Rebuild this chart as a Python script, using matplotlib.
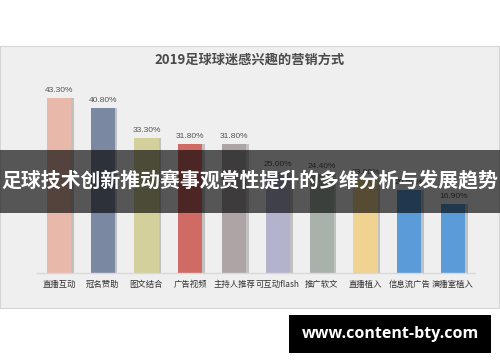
import matplotlib
matplotlib.use('Agg')
import matplotlib.pyplot as plt
from matplotlib.patches import Rectangle

plt.rcParams['font.family'] = ['Noto Sans CJK SC', 'DejaVu Sans']

title = '2019足球球迷感兴趣的营销方式'
categories = ['直播互动', '冠名赞助', '图文结合', '广告视频', '主持人推荐',
              '可互动flash', '推广软文', '直播植入', '信息流广告', '演播室植入']
values = [43.3, 40.8, 33.3, 31.8, 31.8, 25.0, 24.4, 23.0, 20.5, 16.9]
colors = ['#E8B8AA', '#7A88A2', '#D3D09C', '#D06A64', '#ADA4A6',
          '#B3B3CE', '#A8B1AA', '#F0D291', '#5B9BD7', '#5B9BD7']
banner = '足球技术创新推动赛事观赏性提升的多维分析与发展趋势'
watermark = 'www.content-bty.com'

W, H = 500, 362
fig = plt.figure(figsize=(W / 100, H / 100), dpi=100)

def px(x, y, w, h):
    # pixel box (top-left origin) -> figure fraction
    return [x / W, 1 - (y + h) / H, w / W, h / H]

# chart panel
bx = px(0, 46, 499, 262)
fig.patches.append(Rectangle((bx[0], bx[1]), bx[2], bx[3], transform=fig.transFigure,
                             facecolor='#EFEFEF', edgecolor='#D5D5D5', lw=0.8, zorder=-5))
fig.text(0.5, 1 - 60 / H, title, ha='center', va='center', fontsize=9.5,
         color='#4A4A4A', fontweight='bold')

ax = fig.add_axes(px(37, 70.7, 438, 202))
ax.set_zorder(1)
ax.set_facecolor('none')
xs = range(len(values))
ax.bar([x + 0.06 for x in xs], values, width=0.55, color='#8A8A8A', alpha=0.45, zorder=1)
ax.bar(xs, values, width=0.55, color=colors, zorder=2)
for x, v in zip(xs, values):
    ax.annotate('%.2f%%' % v, (x, v), xytext=(0, 3), textcoords='offset points',
                ha='center', va='bottom', fontsize=6, color='#555555',
                family=['Liberation Sans', 'DejaVu Sans'])
ax.set_xlim(-0.5, len(values) - 0.5)
ax.set_ylim(0, 50)
ax.set_xticks(list(xs))
ax.set_xticklabels(categories, fontsize=6, color='#333333')
ax.tick_params(axis='x', length=0, pad=5)
ax.set_yticks([])
for s in ['top', 'right', 'left']:
    ax.spines[s].set_visible(False)
ax.spines['bottom'].set_color('#D9D9D9')
ax.spines['bottom'].set_linewidth(1.0)

# overlay banner
bb = px(0, 150, 500, 63)
fig.patches.append(Rectangle((bb[0], bb[1]), bb[2], bb[3], transform=fig.transFigure,
                             facecolor='#000000', alpha=0.64, zorder=5))
fig.text(0.5, 1 - 181 / H, banner, ha='center', va='center', fontsize=14.3,
         color='white', fontweight='bold', zorder=6)

# watermark
wb = px(289, 315, 202, 38)
fig.patches.append(Rectangle((wb[0], wb[1]), wb[2], wb[3], transform=fig.transFigure,
                             facecolor='black', zorder=5))
fig.text(wb[0] + wb[2] / 2, wb[1] + wb[3] / 2, watermark, ha='center', va='center',
         fontsize=11.5, color='white', fontweight='bold', family=['Open Sans', 'DejaVu Sans'],
         zorder=6)

fig.savefig('out.png', dpi=100, facecolor='white')
